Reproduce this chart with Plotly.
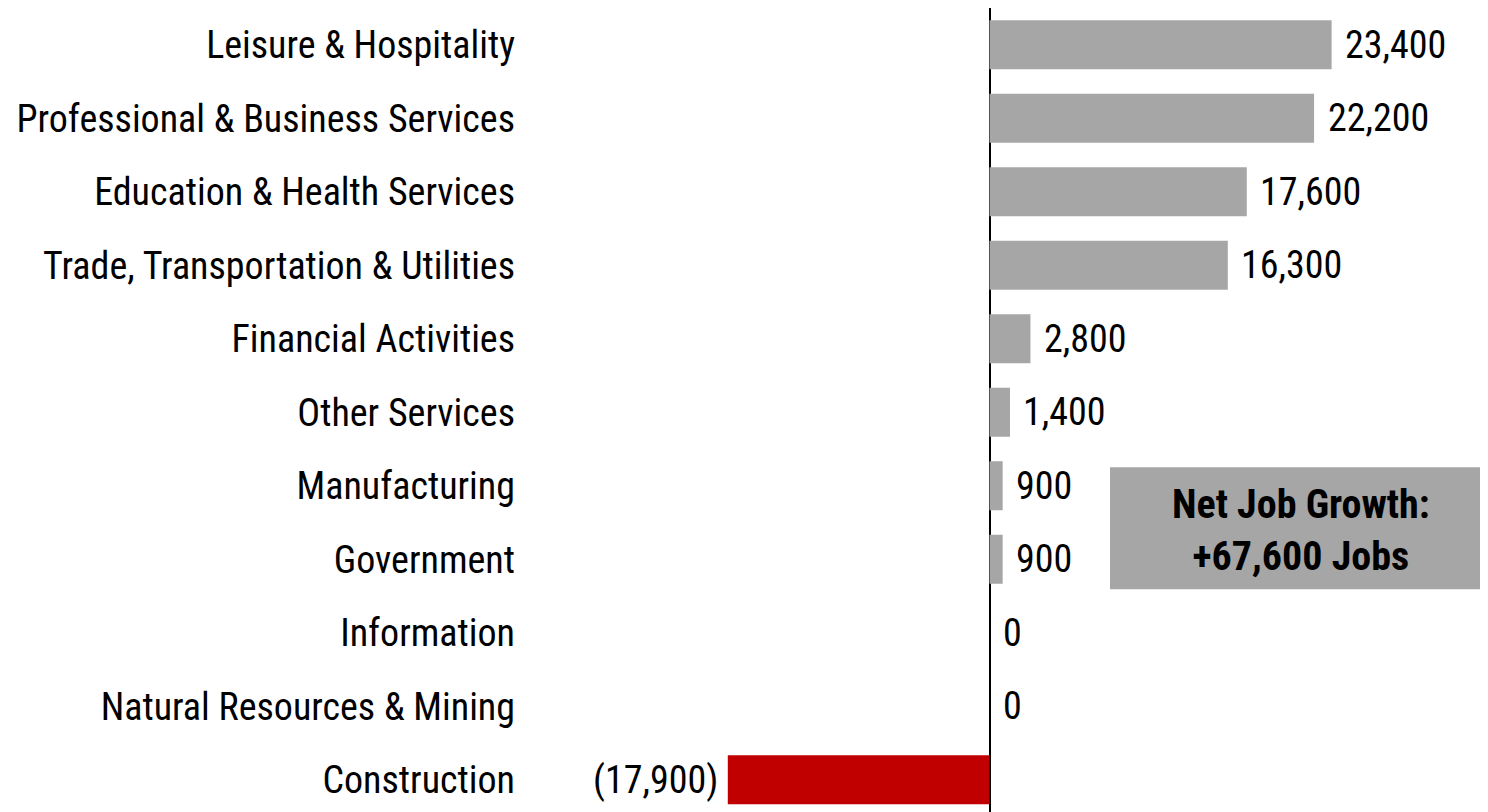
import plotly.graph_objects as go

# ---- data (top to bottom) ----
categories = [
    "Leisure & Hospitality",
    "Professional & Business Services",
    "Education & Health Services",
    "Trade, Transportation & Utilities",
    "Financial Activities",
    "Other Services",
    "Manufacturing",
    "Government",
    "Information",
    "Natural Resources & Mining",
    "Construction",
]
job_change = [23400, 22200, 17600, 16300, 2800, 1400, 900, 900, 0, 0, -17900]
net_growth_lines = ["Net Job Growth:", "+67,600 Jobs"]

# ---- styles ----
FONT = "Roboto Condensed, Liberation Sans Narrow, Arial Narrow, sans-serif"
GRAY = "#A6A6A6"
RED = "#C00000"
FS = 38
FS_BOX = 40

# The HTML body has an 8px default margin; work in page pixels and convert.
OFF = 8
PAGE_W, PAGE_H = 1488, 812
W, H = PAGE_W - OFF, PAGE_H - OFF
PLOT_LEFT_PAGE = 530
ML, MR, MT, MB = PLOT_LEFT_PAGE - OFF, 0, 0, 0
ZERO_PAGE = 989.5
PX_PER_UNIT = 0.01462
x_min = -(ZERO_PAGE - PLOT_LEFT_PAGE) / PX_PER_UNIT
x_max = (PAGE_W - ZERO_PAGE) / PX_PER_UNIT
row_px = 73.5
plot_h = H - MT - MB
plot_w = W - ML - MR
y_top = -0.5
y_bot = y_top + plot_h / row_px

colors = [RED if v < 0 else GRAY for v in job_change]

fig = go.Figure(
    go.Bar(
        x=job_change,
        y=categories,
        orientation="h",
        marker=dict(color=colors, line=dict(width=0)),
        hoverinfo="skip",
    )
)

def fmt(v):
    return f"({abs(v):,})" if v < 0 else f"{v:,}"

for cat, v in zip(categories, job_change):
    fig.add_annotation(
        x=v, y=cat, xref="x", yref="y",
        text=fmt(v), showarrow=False,
        xanchor="right" if v < 0 else "left",
        xshift=-8 if v < 0 else 11.5,
        font=dict(family=FONT, size=FS, color="black"),
    )

# Net growth box (page pixel positions -> paper coords)
def px_x(page_x):
    return (page_x - PLOT_LEFT_PAGE) / plot_w

def px_y(page_y):
    return (PAGE_H - page_y) / plot_h

fig.add_shape(
    type="rect", xref="paper", yref="paper",
    x0=px_x(1110), x1=1.0, y0=px_y(589.3), y1=px_y(467.3),
    fillcolor=GRAY, line=dict(width=0), layer="above",
)
fig.add_annotation(
    xref="paper", yref="paper",
    x=px_x(1301), y=px_y(530),
    xanchor="center", yanchor="middle",
    text="<br>".join(f"<b>{s}</b>" for s in net_growth_lines),
    showarrow=False, align="center",
    font=dict(family=FONT, size=FS_BOX, color="black"),
)

fig.update_layout(
    width=W, height=H,
    margin=dict(l=ML, r=MR, t=MT, b=MB, pad=0),
    paper_bgcolor="white", plot_bgcolor="white",
    bargap=0.333,
    showlegend=False,
    font=dict(family=FONT, size=FS, color="black"),
)
fig.update_xaxes(
    range=[x_min, x_max], showgrid=False, showticklabels=False, ticks="",
    zeroline=True, zerolinecolor="black", zerolinewidth=2, showline=False,
    automargin=False,
)
fig.update_yaxes(
    type="category", range=[y_bot, y_top], showgrid=False, ticks="",
    showline=False, zeroline=False, ticklabelstandoff=14, automargin=False,
    tickfont=dict(family=FONT, size=FS, color="black"),
)

fig.write_html("out.html")
